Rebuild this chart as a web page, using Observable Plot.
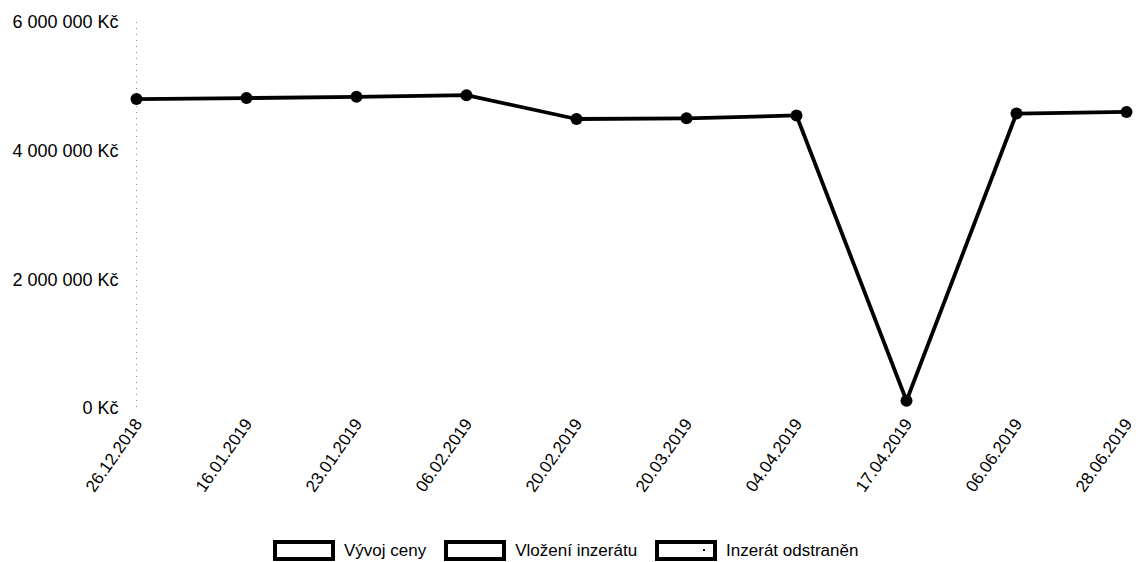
<!DOCTYPE html>
<html>
<head>
<meta charset="utf-8">
<script src="https://cdn.jsdelivr.net/npm/d3@7"></script>
<script src="https://cdn.jsdelivr.net/npm/@observablehq/plot@0.6"></script>
<style>
  html, body { margin: 0; padding: 0; background: #fff; }
  body { width: 1136px; height: 562px; overflow: hidden; position: relative;
         font-family: "Liberation Sans", Arial, Helvetica, sans-serif; }
  #chart { position: absolute; top: 0; left: 0; }
  #legend { position: absolute; top: 540px; left: 273px; display: flex; align-items: center;
            font-size: 17px; color: #000; }
  .item { display: flex; align-items: center; margin-right: 18px; }
  .box { box-sizing: border-box; width: 62px; height: 21px; border: 4px solid #000; background: #fff;
         margin-right: 9px; position: relative; }
  .box.dot::after { content: ""; position: absolute; left: 44px; top: 5px; width: 2px; height: 2px;
                    background: #000; }
</style>
</head>
<body>
<div id="chart"></div>
<div id="legend"></div>
<script>
// Price history of the listing
const dates = ["26.12.2018", "16.01.2019", "23.01.2019", "06.02.2019", "20.02.2019",
               "20.03.2019", "04.04.2019", "17.04.2019", "06.06.2019", "28.06.2019"];
const prices = [4810000, 4825000, 4845000, 4870000, 4500000,
                4510000, 4555000, 120000, 4585000, 4610000];
const yTicks = [0, 2000000, 4000000, 6000000];
const legendLabels = ["Vývoj ceny", "Vložení inzerátu", "Inzerát odstraněn"];

const data = dates.map((d, i) => ({date: d, price: prices[i]}));
const fmt = v => d3.format(",")(v).replace(/,/g, " ") + " Kč";

const chart = Plot.plot({
  width: 1136,
  height: 535,
  marginLeft: 134,
  marginRight: 8,
  marginTop: 22,
  marginBottom: 127,
  style: {fontFamily: "'Liberation Sans', Arial, sans-serif", fontSize: "17px", color: "#000"},
  x: {type: "point", domain: dates, padding: 0, label: null},
  y: {domain: [0, 6000000], ticks: yTicks, label: null},
  marks: [
    Plot.ruleX([dates[0]], {stroke: "#888", strokeDasharray: "1,5", strokeWidth: 1}),
    Plot.axisY({ticks: yTicks, tickFormat: fmt, tickSize: 0, tickPadding: 16, fontSize: 18}),
    Plot.axisX({tickSize: 0, tickRotate: -55, tickPadding: 12, dx: 2, fontSize: 17}),
    Plot.line(data, {x: "date", y: "price", stroke: "#000", strokeWidth: 3.8}),
    Plot.dot(data, {x: "date", y: "price", r: 6, fill: "#000"})
  ]
});
document.getElementById("chart").appendChild(chart);

// legend boxes below the chart
const legend = document.getElementById("legend");
legendLabels.forEach((label, i) => {
  const item = document.createElement("div");
  item.className = "item";
  const box = document.createElement("span");
  box.className = "box" + (i === 2 ? " dot" : "");
  const txt = document.createElement("span");
  txt.textContent = label;
  item.appendChild(box);
  item.appendChild(txt);
  legend.appendChild(item);
});
</script>
</body>
</html>
